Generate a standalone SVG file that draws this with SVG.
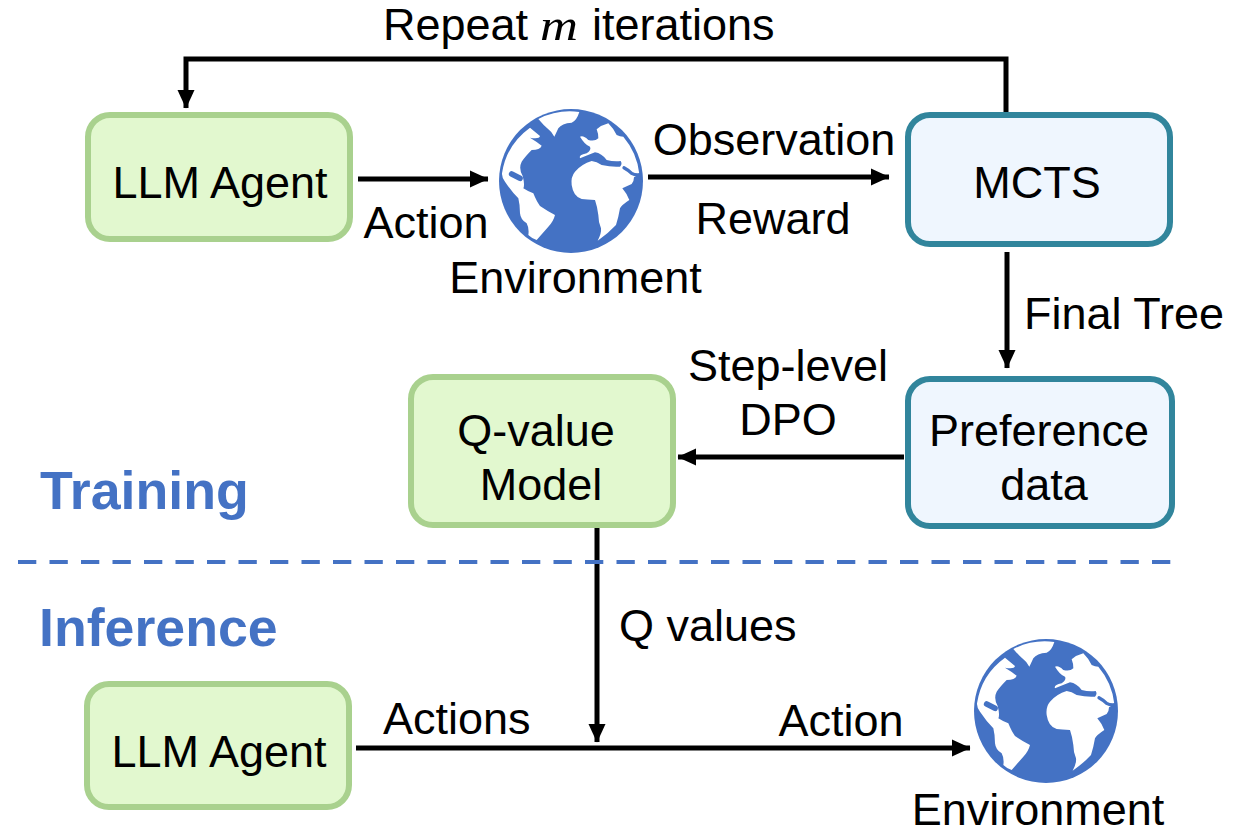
<svg xmlns="http://www.w3.org/2000/svg" width="1244" height="837" viewBox="0 0 1244 837">
<style>
text{font-family:"Liberation Sans",Arial,sans-serif;font-size:45px;fill:#000}
.c{text-anchor:middle}
.h{font-weight:bold;font-size:53.7px;fill:#4472c4}
.m{font-family:"Liberation Serif","Times New Roman",serif;font-style:italic}
.g{fill:#e2f8cf;stroke:#a9d18e;stroke-width:6}
.b{fill:#eff6fe;stroke:#31859c;stroke-width:6}
.l{fill:none;stroke:#000;stroke-width:5;marker-end:url(#a)}
</style>
<defs>
<marker id="a" markerUnits="userSpaceOnUse" markerWidth="20" markerHeight="18" refX="18" refY="9" orient="auto"><path d="M0,0.5 L18.5,9 L0,17.5 Z" fill="#000"/></marker>
<symbol id="globe" overflow="visible">
<g transform="scale(.3333) translate(-273,-273)">
<circle cx="273" cy="273" r="216" fill="#4472c4"/>
<path fill="#fff" d="M175,87 A208,208 0 0 1 298,66 Q290,92 275,98 Q245,100 235,115 L223,140 Q215,125 205,118 Q190,105 175,87Z"/>
<path fill="#fff" d="M150,113 L180,138 Q178,148 150,143 Q170,155 185,167 Q180,180 155,180 Q135,200 125,215 Q115,235 128,258 Q135,285 130,295 Q145,305 160,310 Q170,335 180,348 Q205,365 225,375 Q220,395 205,410 L170,450 Q155,445 145,435 Q148,415 140,400 Q122,390 120,370 Q120,345 115,325 Q95,305 75,275 Q65,262 66,250 A207,207 0 0 1 150,113Z"/>
<path fill="#fff" d="M350,118 Q365,105 385,100 Q400,115 410,135 Q420,140 430,140 A206,206 0 0 1 478,252 L462,262 Q462,275 455,282 L427,295 Q440,310 448,330 Q425,345 420,355 Q415,385 408,405 Q385,430 353,452 Q365,430 363,415 Q355,395 355,375 Q352,350 345,330 Q320,328 305,327 Q280,320 275,285 Q272,260 285,245 Q305,222 335,213 Q350,215 365,225 Q395,232 420,230 Q428,222 422,213 Q400,215 380,210 Q365,190 345,187 Q325,195 300,205 Q295,195 320,190 Q335,180 330,170 Q315,165 300,140 Q310,135 325,150 Q345,155 355,145 Q355,130 350,118Z"/>
<path fill="none" stroke="#4472c4" stroke-width="17" stroke-linecap="round" d="M95,252 L120,265"/>
<path fill="none" stroke="#4472c4" stroke-width="10" stroke-linecap="round" d="M432,233 Q445,240 455,250 Q465,256 480,254"/>
</g>
</symbol>
</defs>
<g id="connectors">
<path class="l" d="M1006,112 V59 H186 V108"/>
<path class="l" d="M358,179 H488"/>
<path class="l" d="M648,177 H889"/>
<path class="l" d="M1007,252 V368"/>
<path class="l" d="M904,457 H678"/>
<path class="l" d="M597,526 V742"/>
<path class="l" d="M356,748 H970"/>
<path d="M18,562 H1171" fill="none" stroke="#4472c4" stroke-width="4" stroke-dasharray="18.3 13.2"/>
</g>
<g id="agent1"><rect class="g" x="88" y="115" width="262" height="124" rx="22"/><text class="c" x="220" y="198">LLM Agent</text></g>
<g id="env1"><use href="#globe" x="571" y="181"/><text class="c" x="575.500" y="293">Environment</text></g>
<g id="mcts"><rect class="b" x="908" y="115" width="262" height="129" rx="22"/><text class="c" x="1037" y="198">MCTS</text></g>
<g id="pref"><rect class="b" x="908" y="379" width="264" height="147" rx="22"/><text class="c" x="1039" y="446">Preference</text><text class="c" x="1044" y="500">data</text></g>
<g id="qvalue"><rect class="g" x="411" y="377" width="262" height="148" rx="22"/><text class="c" x="536" y="446">Q-value</text><text class="c" x="541" y="500">Model</text></g>
<g id="agent2"><rect class="g" x="87" y="684" width="262" height="123" rx="22"/><text class="c" x="219" y="767">LLM Agent</text></g>
<g id="env2"><use href="#globe" x="1046" y="711"/><text class="c" x="1038" y="825">Environment</text></g>
<g id="labels">
<text x="383" y="40">Repeat</text>
<text class="m" x="540" y="40" textLength="38" lengthAdjust="spacingAndGlyphs">m</text>
<text x="592" y="40">iterations</text>
<text class="c" x="426" y="238">Action</text>
<text class="c" x="774" y="155">Observation</text>
<text class="c" x="773" y="234">Reward</text>
<text x="1024" y="329">Final Tree</text>
<text class="c" x="788" y="381">Step-level</text>
<text class="c" x="788" y="435">DPO</text>
<text class="h" x="40" y="509">Training</text>
<text class="h" x="39" y="646">Inference</text>
<text x="619" y="641">Q values</text>
<text x="383" y="734">Actions</text>
<text class="c" x="841" y="736">Action</text>
</g>
</svg>
